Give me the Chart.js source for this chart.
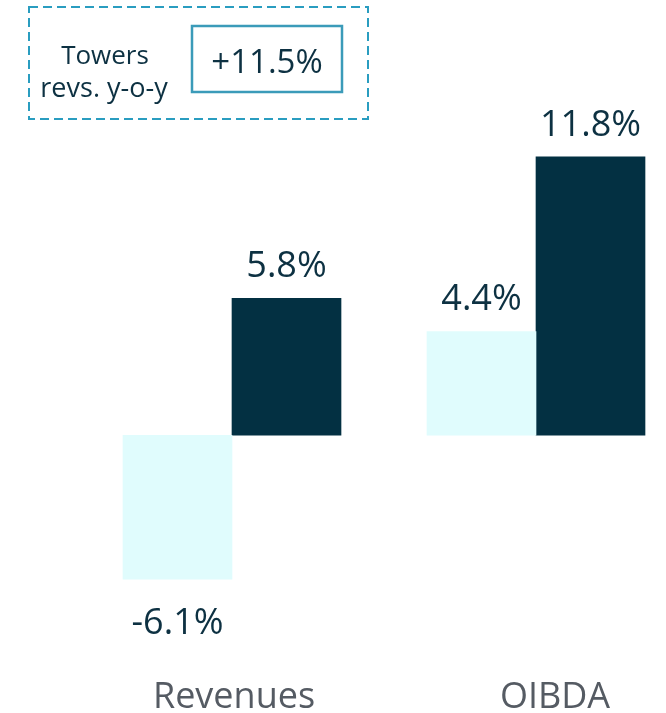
<!DOCTYPE html>
<html>
<head>
<meta charset="utf-8">
<script src="https://cdn.jsdelivr.net/npm/chart.js@4.4.1/dist/chart.umd.min.js"></script>
<style>
  html, body { margin: 0; padding: 0; background: #fff; }
  #wrap { position: relative; width: 666px; height: 713px; }
  #chart { position: absolute; left: 0; top: 0; }
  #box { position: absolute; left: 0; top: 0; }
  #box text { font-family: "Open Sans", sans-serif; fill: #0d3142; }
</style>
</head>
<body>
<div id="wrap">
  <canvas id="chart" width="666" height="713"></canvas>
  <svg id="box" width="380" height="130">
    <rect x="29" y="7" width="339" height="112" fill="none" stroke="#2a9dc0" stroke-width="2" stroke-dasharray="9 5"/>
    <rect x="192" y="26" width="150" height="66" fill="none" stroke="#3b9bb9" stroke-width="2.5"/>
    <text x="105" y="64" text-anchor="middle" font-size="26">Towers</text>
    <text x="104" y="97" text-anchor="middle" font-size="27">revs. y-o-y</text>
    <text id="towers" x="267" y="73" text-anchor="middle" font-size="33"></text>
  </svg>
</div>
<script>
// data
const categories = ["Revenues", "OIBDA"];
const priorYear = [-6.1, 4.4];
const currentYear = [5.8, 11.8];
const towersGrowth = 11.5;

document.getElementById("towers").textContent = "+" + towersGrowth.toFixed(1) + "%";

function fmt(v) {
  return v.toFixed(1) + "%";
}

// small nudges for the category names (OIBDA sits a bit right of its bars)
const catShift = [2, 19];

const labelPlugin = {
  id: "valueLabels",
  afterDatasetsDraw(chart) {
    const ctx = chart.ctx;
    ctx.save();
    ctx.textAlign = "center";
    ctx.textBaseline = "alphabetic";
    ctx.font = '36px "Open Sans"';
    ctx.fillStyle = "#0d3142";
    chart.data.datasets.forEach((ds, i) => {
      chart.getDatasetMeta(i).data.forEach((bar, j) => {
        let v = ds.data[j];
        if (v >= 0) {
          ctx.fillText(fmt(v), bar.x, bar.y - 21);
        } else {
          ctx.fillText(fmt(v), bar.x, bar.y + 55);
        }
      });
    });
    // category names
    const xs = chart.scales.x;
    ctx.font = '36px "Open Sans"';
    ctx.fillStyle = "#555b63";
    categories.forEach((c, i) => {
      ctx.fillText(c, xs.getPixelForValue(i) + catShift[i], 708);
    });
    ctx.restore();
  }
};

function draw() {
  let ctx = document.getElementById("chart").getContext("2d");
  new Chart(ctx, {
    type: "bar",
    data: {
      labels: categories,
      datasets: [{
        label: "Prior",
        data: priorYear,
        backgroundColor: "#e0fcfd",
        barThickness: 109,
        clip: false
      }, {
        label: "Current",
        data: currentYear,
        backgroundColor: "#033042",
        barThickness: 109,
        clip: false
      }]
    },
    options: {
      responsive: false,
      animation: false,
      layout: { padding: { left: 232, right: 130, top: 105, bottom: 89 } },
      plugins: { legend: { display: false }, tooltip: { enabled: false } },
      scales: {
        x: { display: false, offset: false, grid: { offset: false } },
        y: { display: false, min: -8, max: 14 }
      }
    },
    plugins: [labelPlugin]
  });
}

document.fonts.load('36px "Open Sans"').then(draw, draw);
</script>
</body>
</html>
